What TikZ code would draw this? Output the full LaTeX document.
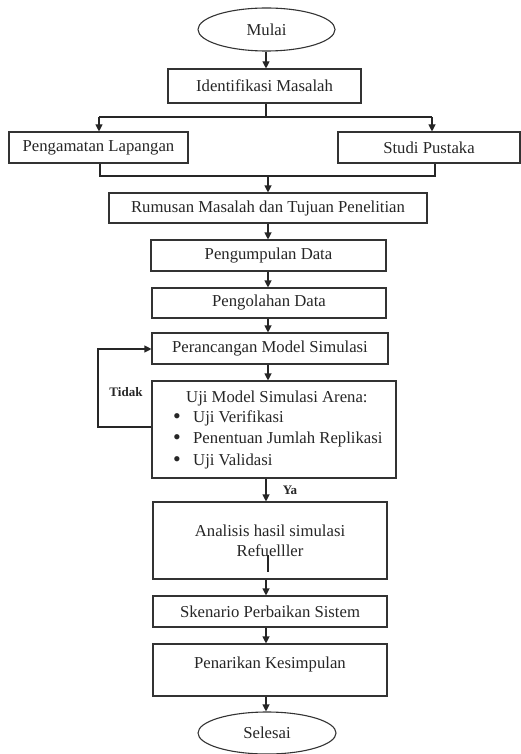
\documentclass[tikz,border=0pt]{standalone}
\usepackage{fontspec}
\setmainfont{Liberation Serif}
\usetikzlibrary{shapes.geometric,arrows.meta}
\begin{document}
\begin{tikzpicture}[x=1pt,y=-1pt,
  every node/.style={font=\fontsize{16.7}{20}\selectfont, text=black!85, inner sep=0pt},
  box/.style={draw=black!80, line width=1.1pt, rectangle, align=center},
  term/.style={draw=black!80, line width=1.1pt, ellipse},
  link/.style={draw=black!85, line width=1.1pt},
  arr/.style={link, -{Triangle[length=7pt,width=7pt]}},
  bul/.style={font=\fontsize{22}{22}\selectfont},
  lbl/.style={font=\bfseries\fontsize{13}{15}\selectfont}]
\useasboundingbox (0,0) rectangle (521,754);

% nodes
\node[term, minimum width=137pt, minimum height=43pt] (mulai) at (266.5,29.5) {Mulai};
\node[box, minimum width=193pt, minimum height=34pt] (ident) at (264.5,86) {Identifikasi Masalah};
\node[box, minimum width=179pt, minimum height=31pt] (peng) at (98.5,147.5) {Pengamatan Lapangan};
\node[box, minimum width=182pt, minimum height=31pt] (studi) at (429,147.5) {Studi Pustaka};
\node[box, minimum width=318pt, minimum height=30pt] (rumus) at (268,208) {Rumusan Masalah dan Tujuan Penelitian};
\node[box, minimum width=235pt, minimum height=31pt] (kumpul) at (268.5,255.5) {Pengumpulan Data};
\node[box, minimum width=234pt, minimum height=30pt] (olah) at (269,303) {Pengolahan Data};
\node[box, minimum width=236pt, minimum height=31pt] (rancang) at (270,348.5) {Perancangan Model Simulasi};
\node[box, minimum width=244pt, minimum height=97pt] (uji) at (274,429.5) {};
\node[anchor=west] (ujiT) at (186,398) {Uji Model Simulasi Arena:};
\node[bul] (b1) at (177,419) {\textbullet};
\node[bul] (b2) at (177,440) {\textbullet};
\node[bul] (b3) at (177,462) {\textbullet};
\node[anchor=west] (i1) at (193,418) {Uji Verifikasi};
\node[anchor=west] (i2) at (193,439) {Penentuan Jumlah Replikasi};
\node[anchor=west] (i3) at (193,461) {Uji Validasi};
\node[box, minimum width=234pt, minimum height=77pt] (anal) at (270,540.5) {Analisis hasil simulasi\\Refuelller};
\node[box, minimum width=234pt, minimum height=31pt] (sken) at (270,611.5) {Skenario Perbaikan Sistem};
\node[box, minimum width=234pt, minimum height=52pt, text height=11.4pt, text depth=15.4pt] (tarik) at (270,670) {Penarikan Kesimpulan};
\node[term, minimum width=138pt, minimum height=42pt] (selesai) at (267,733) {Selesai};

\node[lbl] (tidak) at (126,392) {Tidak};
\node[lbl] (ya) at (290,490) {Ya};

% connectors
\coordinate (cu) at (266,0);
\coordinate (cm) at (268,0);
\coordinate (sL) at (99,117);
\coordinate (sR) at (432,117);
\coordinate (mL) at (100,176);
\coordinate (mR) at (435,176);
\coordinate (fb) at (98,0);

\draw[arr] (cu |- mulai.south) -- (cu |- ident.north);
\draw[link] (cu |- ident.south) -- (cu |- sL);
\draw[link] (sL) -- (sR);
\draw[arr] (sL) -- (sL |- peng.north);
\draw[arr] (sR) -- (sR |- studi.north);
\draw[link] (mL |- peng.south) -- (mL) -- (mR) -- (mR |- studi.south);
\draw[arr] (cm |- mL) -- (cm |- rumus.north);
\draw[arr] (cm |- rumus.south) -- (cm |- kumpul.north);
\draw[arr] (cm |- kumpul.south) -- (cm |- olah.north);
\draw[arr] (cm |- olah.south) -- (cm |- rancang.north);
\draw[arr] (cm |- rancang.south) -- (cm |- uji.north);
\draw[arr] (uji.west |- 0,427) -- (fb |- 0,427) -- (fb |- 0,349) -- (rancang.west |- 0,349);
\draw[arr] (cu |- uji.south) -- (cu |- anal.north);
\draw[link] (268,555) -- (268,572);
\draw[arr] (cu |- anal.south) -- (cu |- sken.north);
\draw[arr] (cu |- sken.south) -- (cu |- tarik.north);
\draw[arr] (cu |- tarik.south) -- (cu |- selesai.north);
\end{tikzpicture}
\end{document}
